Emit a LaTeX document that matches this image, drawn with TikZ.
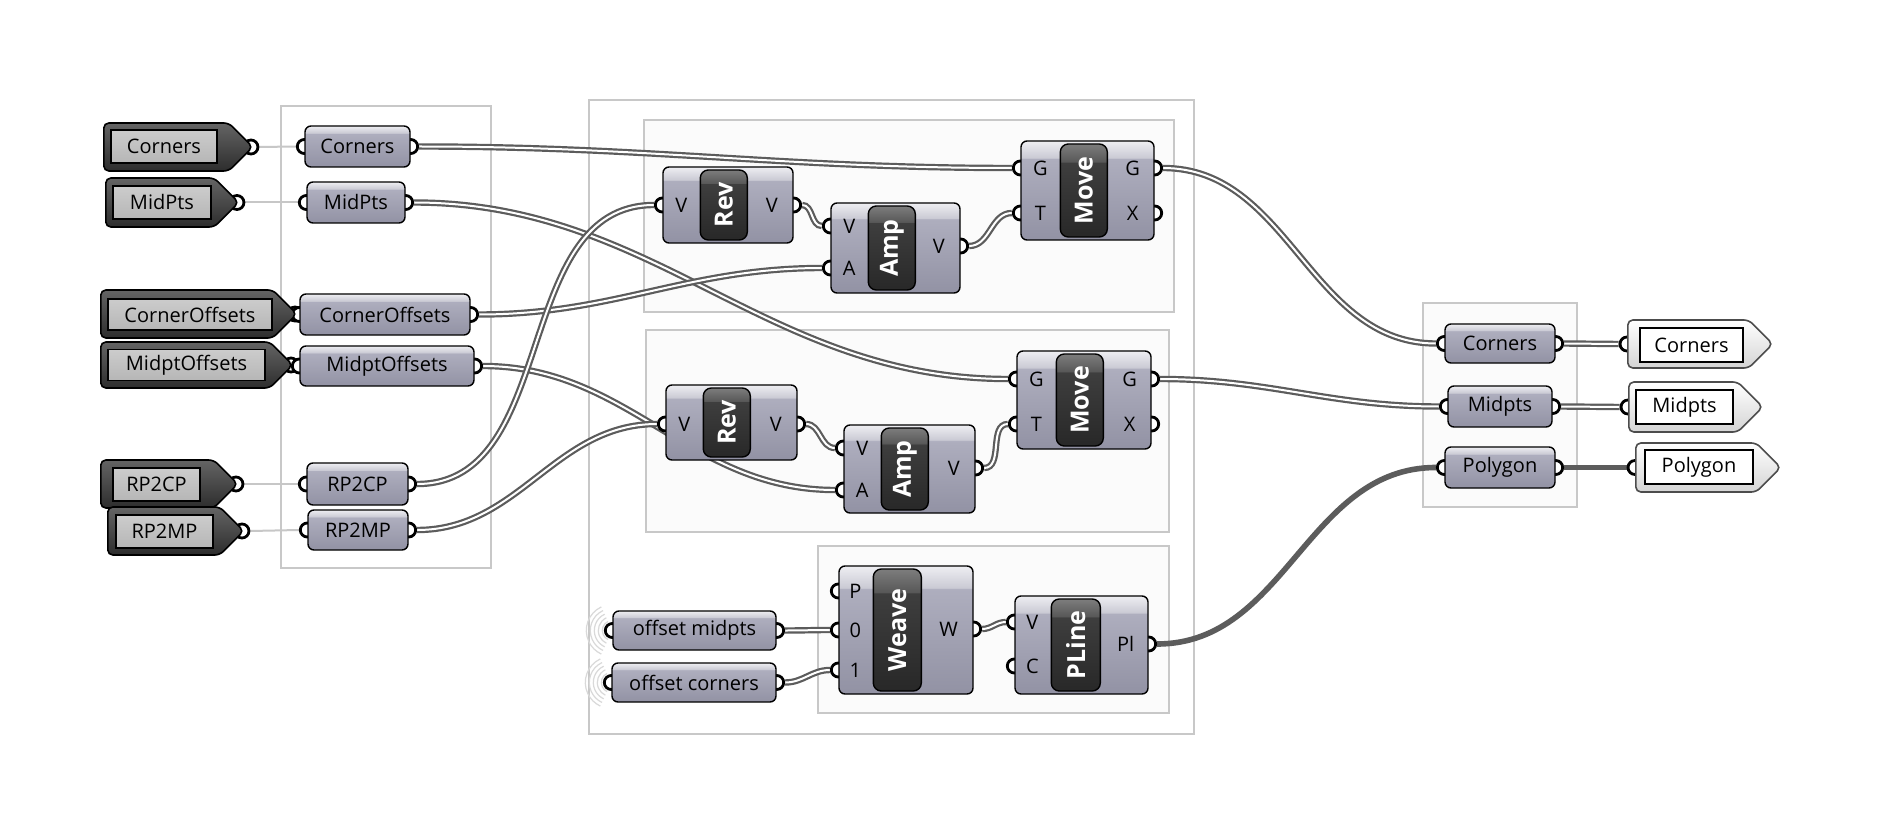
\documentclass[tikz,border=0pt]{standalone}
\usepackage{fontspec}
\setmainfont{Open Sans}
\usepackage{graphicx}
\usepackage{tikz}
\usetikzlibrary{shapes.symbols, calc}

\definecolor{compTop}{RGB}{238,238,242}
\definecolor{compBand}{RGB}{202,202,212}
\definecolor{compMid}{RGB}{174,174,190}
\definecolor{compBot}{RGB}{146,146,164}
\definecolor{nickTop}{RGB}{125,125,125}
\definecolor{nickBand}{RGB}{88,88,88}
\definecolor{nickMid}{RGB}{62,62,62}
\definecolor{nickBot}{RGB}{40,40,40}
\definecolor{wireCol}{RGB}{92,92,92}
\definecolor{grpLine}{RGB}{200,200,200}
\definecolor{grpFill}{RGB}{251,251,251}
\definecolor{tagDarkTop}{RGB}{100,100,100}
\definecolor{tagDarkBot}{RGB}{45,45,45}
\definecolor{tagInner}{RGB}{182,182,182}
\definecolor{tagLight}{RGB}{212,212,212}

\pgfdeclareverticalshading{ghcomp}{100bp}{color(0bp)=(compBot); color(25bp)=(compBot);
  color(66bp)=(compMid); color(66.5bp)=(compBand); color(75bp)=(compTop); color(100bp)=(compTop)}
\pgfdeclareverticalshading{ghnick}{100bp}{color(0bp)=(nickBot); color(25bp)=(nickBot);
  color(65bp)=(nickMid); color(65.5bp)=(nickBand); color(75bp)=(nickTop); color(100bp)=(nickTop)}

\newdimen\gpx \gpx=0.5pt

\pgfdeclarelayer{grp}
\pgfdeclarelayer{wire}
\pgfdeclarelayer{grip}
\pgfsetlayers{grp,wire,grip,main}

\begin{document}
\begin{tikzpicture}[x=0.5pt, y=-0.5pt,
  every node/.style={font=\fontsize{10}{12}\selectfont, inner sep=0pt},
  grp/.style={draw=grpLine, line width=0.8pt, fill=grpFill},
  comp/.style={draw=black, line width=0.7pt, rounded corners=3pt, shading=ghcomp},
  nick/.style={draw=black, line width=0.7pt, rounded corners=4pt, shading=ghnick,
               text=white, font=\fontsize{12.5}{14}\selectfont\bfseries},
  grip/.style={circle, draw=black, line width=1.4pt, fill=white, minimum size=14\gpx},
  dtag/.style={signal, signal to=east, anchor=west, draw=black, line width=0.8pt,
               rounded corners=2.5pt, top color=tagDarkTop, bottom color=tagDarkBot},
  dlbl/.style={draw=black, line width=0.7pt, top color=tagInner!70!white, bottom color=tagInner},
  ltag/.style={signal, signal to=east, anchor=west, draw=black!70, line width=0.8pt,
               rounded corners=2.5pt, top color=white, bottom color=tagLight},
  llbl/.style={draw=black, line width=0.7pt, fill=white},
  wire/.style={draw=wireCol, line width=1.1pt, double=white, double distance=1pt},
  fat/.style={draw=wireCol, line width=2.8pt},
  link/.style={draw=black!22, line width=1pt},
  ring/.style={draw=black!15, line width=0.6pt},
]
  \useasboundingbox (0,0) rectangle (1884,834);

  % Groups
  \begin{pgfonlayer}{grp}
    \fill[white] (0,0) rectangle (1884,834);
    \node[grp, fill=white, minimum width=210\gpx, minimum height=462\gpx] (gin) at (386,337) {};
    \node[grp, fill=white, minimum width=605\gpx, minimum height=634\gpx] (gmain) at (891.5,417) {};
    \node[grp, minimum width=530\gpx, minimum height=192\gpx] (gcorner) at (909,216) {};
    \node[grp, minimum width=523\gpx, minimum height=202\gpx] (gmidpt) at (907.5,431) {};
    \node[grp, minimum width=351\gpx, minimum height=167\gpx] (gpoly) at (993.5,629.5) {};
    \node[grp, minimum width=154\gpx, minimum height=204\gpx] (gout) at (1500,405) {};
  \end{pgfonlayer}

  % Input tags
  \node[dtag, minimum width=149\gpx, minimum height=48\gpx] (tcorners) at (103,147) {};
  \node[dlbl, minimum width=106\gpx, minimum height=33\gpx] (tcorners-l) at (164,146.5) {Corners};
  \node[dtag, minimum width=133\gpx, minimum height=49\gpx] (tmidpts) at (105,202.5) {};
  \node[dlbl, minimum width=98\gpx, minimum height=33\gpx] (tmidpts-l) at (162,202.5) {MidPts};
  \node[dtag, minimum width=196\gpx, minimum height=48\gpx] (tcorneroff) at (100,314) {};
  \node[dlbl, minimum width=164\gpx, minimum height=31\gpx] (tcorneroff-l) at (190,314.5) {CornerOffsets};
  \node[dtag, minimum width=192\gpx, minimum height=46\gpx] (tmidptoff) at (100,365) {};
  \node[dlbl, minimum width=157\gpx, minimum height=31\gpx] (tmidptoff-l) at (186.5,365) {MidptOffsets};
  \node[dtag, minimum width=137\gpx, minimum height=48\gpx] (trp2cp) at (100,484) {};
  \node[dlbl, minimum width=87\gpx, minimum height=33\gpx] (trp2cp-l) at (156.5,484.5) {RP2CP};
  \node[dtag, minimum width=136\gpx, minimum height=48\gpx] (trp2mp) at (107,531) {};
  \node[dlbl, minimum width=97\gpx, minimum height=33\gpx] (trp2mp-l) at (164.5,531.5) {RP2MP};

  % Input params
  \node[comp, minimum width=105\gpx, minimum height=41\gpx] (pcorners) at (357.5,146.5) {Corners};
  \node[comp, minimum width=98\gpx, minimum height=41\gpx] (pmidpts) at (356,202.5) {MidPts};
  \node[comp, minimum width=170\gpx, minimum height=41\gpx] (pcorneroff) at (385,314.5) {CornerOffsets};
  \node[comp, minimum width=174\gpx, minimum height=40\gpx] (pmidptoff) at (387,366) {MidptOffsets};
  \node[comp, minimum width=101\gpx, minimum height=42\gpx] (prp2cp) at (357.5,484) {RP2CP};
  \node[comp, minimum width=100\gpx, minimum height=40\gpx] (prp2mp) at (358,530) {RP2MP};

  % Corner branch
  \node[comp, minimum width=130\gpx, minimum height=76\gpx] (rev1) at (728,205) {};
  \node[nick, minimum width=47\gpx, minimum height=70\gpx] (rev1-n) at ($(rev1.west)+(61.5,0)$) {\rotatebox{90}{Rev}};
  \node (rev1-vl) at ($(rev1.west)+(19,0)$) {V};
  \node (rev1-vr) at ($(rev1.east)+(-22,0)$) {V};
  \node[comp, minimum width=129\gpx, minimum height=90\gpx] (amp1) at (895.5,248) {};
  \node[nick, minimum width=47\gpx, minimum height=84\gpx] (amp1-n) at ($(amp1.west)+(61.5,0)$) {\rotatebox{90}{Amp}};
  \node (amp1-vl) at ($(amp1.west |- 0,226)+(19,0)$) {V};
  \node (amp1-al) at ($(amp1.west |- 0,268)+(19,0)$) {A};
  \node (amp1-vr) at ($(amp1.east |- 0,246)+(-22,0)$) {V};
  \node[comp, minimum width=133\gpx, minimum height=99\gpx] (move1) at (1087.5,190.5) {};
  \node[nick, minimum width=47\gpx, minimum height=93\gpx] (move1-n) at ($(move1.west)+(63.5,0)$) {\rotatebox{90}{Move}};
  \node (move1-gl) at ($(move1.west |- 0,168)+(20,0)$) {G};
  \node (move1-tl) at ($(move1.west |- 0,213)+(20,0)$) {T};
  \node (move1-gr) at ($(move1.east |- 0,168)+(-22,0)$) {G};
  \node (move1-xr) at ($(move1.east |- 0,213)+(-22,0)$) {X};

  % Midpoint branch
  \node[comp, minimum width=131\gpx, minimum height=75\gpx] (rev2) at (731.5,422.5) {};
  \node[nick, minimum width=47\gpx, minimum height=69\gpx] (rev2-n) at ($(rev2.west)+(61.5,0)$) {\rotatebox{90}{Rev}};
  \node (rev2-vl) at ($(rev2.west |- 0,424)+(19,0)$) {V};
  \node (rev2-vr) at ($(rev2.east |- 0,424)+(-22,0)$) {V};
  \node[comp, minimum width=131\gpx, minimum height=88\gpx] (amp2) at (909.5,469) {};
  \node[nick, minimum width=47\gpx, minimum height=82\gpx] (amp2-n) at ($(amp2.west)+(61.5,0)$) {\rotatebox{90}{Amp}};
  \node (amp2-vl) at ($(amp2.west |- 0,448)+(19,0)$) {V};
  \node (amp2-al) at ($(amp2.west |- 0,490)+(19,0)$) {A};
  \node (amp2-vr) at ($(amp2.east |- 0,468)+(-22,0)$) {V};
  \node[comp, minimum width=134\gpx, minimum height=98\gpx] (move2) at (1084,400) {};
  \node[nick, minimum width=47\gpx, minimum height=92\gpx] (move2-n) at ($(move2.west)+(63.5,0)$) {\rotatebox{90}{Move}};
  \node (move2-gl) at ($(move2.west |- 0,379)+(20,0)$) {G};
  \node (move2-tl) at ($(move2.west |- 0,424)+(20,0)$) {T};
  \node (move2-gr) at ($(move2.east |- 0,379)+(-22,0)$) {G};
  \node (move2-xr) at ($(move2.east |- 0,424)+(-22,0)$) {X};

  % Polygon branch
  \node[comp, minimum width=163\gpx, minimum height=39\gpx] (offmid) at (694.5,630.5) {offset midpts};
  \node[comp, minimum width=164\gpx, minimum height=39\gpx] (offcor) at (694,682.5) {offset corners};
  \node[comp, minimum width=134\gpx, minimum height=128\gpx] (weave) at (906,630) {};
  \node[nick, minimum width=48\gpx, minimum height=122\gpx] (weave-n) at ($(weave.west)+(59,0)$) {\rotatebox{90}{Weave}};
  \node (weave-pl) at ($(weave.west |- 0,591)+(17,0)$) {P};
  \node (weave-0l) at ($(weave.west |- 0,630)+(17,0)$) {0};
  \node (weave-1l) at ($(weave.west |- 0,670)+(17,0)$) {1};
  \node (weave-wr) at ($(weave.east |- 0,629)+(-25,0)$) {W};
  \node[comp, minimum width=133\gpx, minimum height=98\gpx] (pline) at (1081.5,645) {};
  \node[nick, minimum width=49\gpx, minimum height=92\gpx] (pline-n) at ($(pline.west)+(61.5,0)$) {\rotatebox{90}{PLine}};
  \node (pline-vl) at ($(pline.west |- 0,622)+(18,0)$) {V};
  \node (pline-cl) at ($(pline.west |- 0,666)+(18,0)$) {C};
  \node (pline-pr) at ($(pline.east |- 0,644)+(-23,0)$) {Pl};

  % Output params and tags
  \node[comp, minimum width=110\gpx, minimum height=39\gpx] (ocorners) at (1500,343.5) {Corners};
  \node[comp, minimum width=104\gpx, minimum height=41\gpx] (omidpts) at (1500,406.5) {Midpts};
  \node[comp, minimum width=110\gpx, minimum height=41\gpx] (opolygon) at (1500,467.5) {Polygon};
  \node[ltag, minimum width=145\gpx, minimum height=48\gpx] (rcorners) at (1627,344) {};
  \node[llbl, minimum width=103\gpx, minimum height=34\gpx] (rcorners-l) at (1691.5,345) {Corners};
  \node[ltag, minimum width=134\gpx, minimum height=50\gpx] (rmidpts) at (1628,407) {};
  \node[llbl, minimum width=97\gpx, minimum height=34\gpx] (rmidpts-l) at (1684.5,407) {Midpts};
  \node[ltag, minimum width=145\gpx, minimum height=49\gpx] (rpolygon) at (1635,467.5) {};
  \node[llbl, minimum width=108\gpx, minimum height=34\gpx] (rpolygon-l) at (1699,467) {Polygon};

  % Grips
  \begin{pgfonlayer}{grip}
    \node[grip] (tcorners-o) at ($(tcorners.east)+(-3,0)$) {};
    \node[grip] (tmidpts-o) at ($(tmidpts.east)+(-3,0)$) {};
    \node[grip] (tcorneroff-o) at ($(tcorneroff.east)+(-3,0)$) {};
    \node[grip] (tmidptoff-o) at ($(tmidptoff.east)+(-3,0)$) {};
    \node[grip] (trp2cp-o) at ($(trp2cp.east)+(-3,0)$) {};
    \node[grip] (trp2mp-o) at ($(trp2mp.east)+(-3,0)$) {};
    \node[grip] (pcorners-i) at (pcorners.west) {};
    \node[grip] (pcorners-o) at (pcorners.east) {};
    \node[grip] (pmidpts-i) at (pmidpts.west) {};
    \node[grip] (pmidpts-o) at (pmidpts.east) {};
    \node[grip] (pcorneroff-i) at (pcorneroff.west) {};
    \node[grip] (pcorneroff-o) at (pcorneroff.east) {};
    \node[grip] (pmidptoff-i) at (pmidptoff.west) {};
    \node[grip] (pmidptoff-o) at (pmidptoff.east) {};
    \node[grip] (prp2cp-i) at (prp2cp.west) {};
    \node[grip] (prp2cp-o) at (prp2cp.east) {};
    \node[grip] (prp2mp-i) at (prp2mp.west) {};
    \node[grip] (prp2mp-o) at (prp2mp.east) {};
    \node[grip] (rev1-vi) at (rev1.west) {};
    \node[grip] (rev1-vo) at (rev1.east) {};
    \node[grip] (amp1-vi) at (amp1.west |- 0,226) {};
    \node[grip] (amp1-ai) at (amp1.west |- 0,268) {};
    \node[grip] (amp1-vo) at (amp1.east |- 0,246) {};
    \node[grip] (move1-gi) at (move1.west |- 0,168) {};
    \node[grip] (move1-ti) at (move1.west |- 0,213) {};
    \node[grip] (move1-go) at (move1.east |- 0,168) {};
    \node[grip] (move1-xo) at (move1.east |- 0,213) {};
    \node[grip] (rev2-vi) at (rev2.west |- 0,424) {};
    \node[grip] (rev2-vo) at (rev2.east |- 0,424) {};
    \node[grip] (amp2-vi) at (amp2.west |- 0,448) {};
    \node[grip] (amp2-ai) at (amp2.west |- 0,490) {};
    \node[grip] (amp2-vo) at (amp2.east |- 0,468) {};
    \node[grip] (move2-gi) at (move2.west |- 0,379) {};
    \node[grip] (move2-ti) at (move2.west |- 0,424) {};
    \node[grip] (move2-go) at (move2.east |- 0,379) {};
    \node[grip] (move2-xo) at (move2.east |- 0,424) {};
    \node[grip] (offmid-i) at (offmid.west) {};
    \node[grip] (offmid-o) at (offmid.east) {};
    \node[grip] (offcor-i) at (offcor.west) {};
    \node[grip] (offcor-o) at (offcor.east) {};
    \node[grip] (weave-pi) at (weave.west |- 0,591) {};
    \node[grip] (weave-0i) at (weave.west |- 0,630) {};
    \node[grip] (weave-1i) at (weave.west |- 0,670) {};
    \node[grip] (weave-wo) at (weave.east |- 0,629) {};
    \node[grip] (pline-vi) at (pline.west |- 0,622) {};
    \node[grip] (pline-ci) at (pline.west |- 0,666) {};
    \node[grip] (pline-po) at (pline.east |- 0,644) {};
    \node[grip] (ocorners-i) at (ocorners.west) {};
    \node[grip] (ocorners-o) at (ocorners.east) {};
    \node[grip] (omidpts-i) at (omidpts.west) {};
    \node[grip] (omidpts-o) at (omidpts.east) {};
    \node[grip] (opolygon-i) at (opolygon.west) {};
    \node[grip] (opolygon-o) at (opolygon.east) {};
    \node[grip] (rcorners-i) at (rcorners.west) {};
    \node[grip] (rmidpts-i) at (rmidpts.west) {};
    \node[grip] (rpolygon-i) at (rpolygon.west) {};
  \end{pgfonlayer}

  % Wires
  \begin{pgfonlayer}{wire}
    \draw[link] (tcorners-o.east) -- (pcorners-i.west);
    \draw[link] (tmidpts-o.east) -- (pmidpts-i.west);
    \draw[link] (tcorneroff-o.east) -- (pcorneroff-i.west);
    \draw[link] (tmidptoff-o.east) -- (pmidptoff-i.west);
    \draw[link] (trp2cp-o.east) -- (prp2cp-i.west);
    \draw[link] (trp2mp-o.east) -- (prp2mp-i.west);

    \draw[wire] (pcorners-o.east) to[out=0, in=180] (move1-gi.west);
    \draw[wire] (pmidpts-o.east) to[out=0, in=180] (move2-gi.west);
    \draw[wire] (pcorneroff-o.east) to[out=0, in=180] (amp1-ai.west);
    \draw[wire] (pmidptoff-o.east) to[out=0, in=180] (amp2-ai.west);
    \draw[wire] (prp2cp-o.east) to[out=0, in=180] (rev1-vi.west);
    \draw[wire] (prp2mp-o.east) to[out=0, in=180] (rev2-vi.west);
    \draw[wire] (rev1-vo.east) to[out=0, in=180] (amp1-vi.west);
    \draw[wire] (amp1-vo.east) to[out=0, in=180] (move1-ti.west);
    \draw[wire] (rev2-vo.east) to[out=0, in=180] (amp2-vi.west);
    \draw[wire] (amp2-vo.east) to[out=0, in=180] (move2-ti.west);
    \draw[wire] (offmid-o.east) to[out=0, in=180] (weave-0i.west);
    \draw[wire] (offcor-o.east) to[out=0, in=180] (weave-1i.west);
    \draw[wire] (weave-wo.east) to[out=0, in=180] (pline-vi.west);
    \draw[fat] (pline-po.east) to[out=0, in=180] (opolygon-i.west);
    \draw[wire] (move1-go.east) to[out=0, in=180] (ocorners-i.west);
    \draw[wire] (move2-go.east) to[out=0, in=180] (omidpts-i.west);
    \draw[wire] (ocorners-o.east) -- (rcorners-i.west);
    \draw[wire] (omidpts-o.east) -- (rmidpts-i.west);
    \draw[fat] (opolygon-o.east) -- (rpolygon-i.west);

    % receiver rings
    \foreach \r in {10,14,18,22,26}
      \draw[ring] (offmid-i.center) ++(115:\r\gpx) arc[start angle=115, end angle=245, radius=\r\gpx];
    \foreach \r in {10,14,18,22,26}
      \draw[ring] (offcor-i.center) ++(115:\r\gpx) arc[start angle=115, end angle=245, radius=\r\gpx];
  \end{pgfonlayer}
\end{tikzpicture}
\end{document}
